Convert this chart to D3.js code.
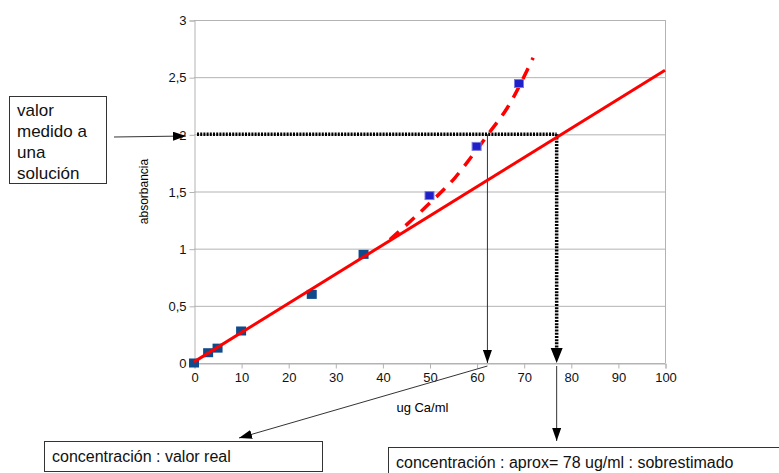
<!DOCTYPE html>
<html>
<head>
<meta charset="utf-8">
<script src="https://cdn.jsdelivr.net/npm/d3@7"></script>
<style>
  body { margin: 0; background: #fff; }
  svg { font-family: "Liberation Sans", Arial, sans-serif; }
</style>
</head>
<body>
<div id="chart"></div>
<script>
// calibration points (ug Ca/ml vs absorbancia)
const lowConc = [0, 3, 5, 10, 25, 36];
const lowAbs = [0, 0.09, 0.13, 0.28, 0.6, 0.95];
const highConc = [50, 60, 69];
const highAbs = [1.46, 1.89, 2.44];

// linear fit and curved (dashed) trend
const fitConc = [0, 100];
const fitAbs = [0.01, 2.56];
const dashConc = [41.6, 50.1, 55.4, 59.2, 62.8, 66.5, 72];
const dashAbs = [1.08, 1.40, 1.62, 1.82, 2.02, 2.23, 2.67];

// reading
const measuredAbs = 2;
const realConc = 62.3;
const estConc = 77;

const xTicks = [0, 10, 20, 30, 40, 50, 60, 70, 80, 90, 100];
const yTicks = [0, 0.5, 1, 1.5, 2, 2.5, 3];

const width = 779, height = 473;
const margins = { top: 20, right: 114, bottom: 110, left: 194 };

const svg = d3.select('#chart').append('svg')
  .attr('width', width)
  .attr('height', height);

const xScale = d3.scaleLinear()
  .domain([0, 100])
  .range([margins.left, width - margins.right]);
const yScale = d3.scaleLinear()
  .domain([0, 3])
  .range([height - margins.bottom, margins.top]);

const grey = '#b3b3b3';
const fmt = d => String(d).replace('.', ',');

// defs: arrowheads
const defs = svg.append('defs');
const marker = (id, w, h) => defs.append('marker')
  .attr('id', id)
  .attr('viewBox', `0 0 ${h} ${w}`)
  .attr('refX', h).attr('refY', w / 2)
  .attr('markerWidth', h).attr('markerHeight', w)
  .attr('markerUnits', 'userSpaceOnUse')
  .attr('orient', 'auto')
  .append('path')
    .attr('d', `M0,0 L${h},${w / 2} L0,${w} Z`)
    .attr('fill', '#000');
marker('thin', 9, 13);

// grid
svg.append('g').selectAll('line')
  .data(yTicks)
  .join('line')
    .attr('x1', xScale(0)).attr('x2', xScale(100))
    .attr('y1', d => yScale(d) + 0.5).attr('y2', d => yScale(d) + 0.5)
    .attr('stroke', grey);

// axes
const yAxis = svg.append('g')
  .attr('transform', `translate(${xScale(0) + 0.5},0.5)`)
  .call(d3.axisLeft(yScale).tickValues(yTicks).tickFormat(fmt).tickSize(5).tickPadding(3));
const xAxis = svg.append('g')
  .attr('transform', `translate(0.5,${yScale(0) + 0.5})`)
  .call(d3.axisBottom(xScale).tickValues(xTicks).tickSize(5).tickPadding(4));
[yAxis, xAxis].forEach(ax => {
  ax.select('.domain').attr('stroke', grey);
  ax.selectAll('.tick line').attr('stroke', grey);
  ax.selectAll('.tick text')
    .attr('fill', '#111')
    .style('font-size', '13px')
    .style('font-family', '"Liberation Sans", Arial, sans-serif');
});
// right border
svg.append('line')
  .attr('x1', xScale(100) + 0.5).attr('x2', xScale(100) + 0.5)
  .attr('y1', yScale(3)).attr('y2', yScale(0))
  .attr('stroke', grey);

// axis labels
svg.append('text')
  .attr('transform', `translate(148,${yScale(1.5)}) rotate(-90)`)
  .attr('text-anchor', 'middle')
  .style('font-size', '12px')
  .text('absorbancia');
svg.append('text')
  .attr('x', xScale(48.5)).attr('y', 412)
  .attr('text-anchor', 'middle')
  .style('font-size', '13px')
  .text('ug Ca/ml');

// reading lines
const dotted = svg.append('g')
  .attr('stroke', '#000')
  .attr('stroke-width', 3.5)
  .attr('stroke-dasharray', '2,1.2')
  .attr('fill', 'none');
dotted.append('line')
  .attr('x1', xScale(0) + 3).attr('x2', xScale(estConc))
  .attr('y1', yScale(measuredAbs)).attr('y2', yScale(measuredAbs));
dotted.append('line')
  .attr('x1', xScale(estConc)).attr('x2', xScale(estConc))
  .attr('y1', yScale(measuredAbs)).attr('y2', yScale(0) - 14);
svg.append('path')
  .attr('d', `M${xScale(estConc) - 6},${yScale(0) - 15} L${xScale(estConc) + 6},${yScale(0) - 15} L${xScale(estConc)},${yScale(0)} Z`)
  .attr('fill', '#000');

svg.append('line')
  .attr('x1', xScale(realConc)).attr('x2', xScale(realConc))
  .attr('y1', yScale(measuredAbs)).attr('y2', yScale(0))
  .attr('stroke', '#333').attr('stroke-width', 1)
  .attr('marker-end', 'url(#thin)');

// curved trend (dashed)
const line = d3.line()
  .x(d => xScale(d[0]))
  .y(d => yScale(d[1]));
svg.append('path')
  .attr('d', line.curve(d3.curveMonotoneX)(d3.zip(dashConc, dashAbs)))
  .attr('fill', 'none')
  .attr('stroke', '#ff0000')
  .attr('stroke-width', 3.5)
  .attr('stroke-dasharray', '12,9');

// points
const sq = 10;
svg.append('g').selectAll('rect')
  .data(d3.zip(lowConc, lowAbs))
  .join('rect')
    .attr('x', d => xScale(d[0]) - sq / 2)
    .attr('y', d => yScale(d[1]) - sq / 2 + 0.5)
    .attr('width', sq).attr('height', sq - 1)
    .attr('fill', '#0f4a8a');
svg.append('g').selectAll('rect')
  .data(d3.zip(highConc, highAbs))
  .join('rect')
    .attr('x', d => xScale(d[0]) - sq / 2 + 0.5)
    .attr('y', d => yScale(d[1]) - sq / 2 + 0.5)
    .attr('width', sq - 1).attr('height', sq - 2)
    .attr('fill', '#2020c8')
    .attr('stroke', '#7c7ce0')
    .attr('stroke-width', 1);

// linear fit
svg.append('path')
  .attr('d', line.curve(d3.curveLinear)(d3.zip(fitConc, fitAbs)))
  .attr('fill', 'none')
  .attr('stroke', '#ff0000')
  .attr('stroke-width', 3);

// annotation boxes
const box = (x, y, w, h, lines, size, lh, dy) => {
  svg.append('rect')
    .attr('x', x + 0.5).attr('y', y + 0.5)
    .attr('width', w).attr('height', h)
    .attr('fill', '#fff').attr('stroke', '#333');
  const t = svg.append('text')
    .attr('x', x + 8).attr('y', y + dy)
    .style('font-size', size + 'px')
    .attr('fill', '#111');
  lines.forEach((l, i) => t.append('tspan')
    .attr('x', x + 8).attr('dy', i ? lh : 0).text(l));
};
box(9, 96, 97, 87, ['valor', 'medido a', 'una', 'solución'], 17, 21, 20);
box(44, 441, 278, 30, ['concentración : valor real'], 16, 0, 21);
box(388, 447, 400, 30, ['concentración : aprox= 78 ug/ml : sobrestimado'], 16, 0, 21);

// annotation arrows
const arrow = (x1, y1, x2, y2) => svg.append('line')
  .attr('x1', x1).attr('y1', y1).attr('x2', x2).attr('y2', y2)
  .attr('stroke', '#333').attr('stroke-width', 1)
  .attr('marker-end', 'url(#thin)');
arrow(114, 137, 186, 136);
arrow(xScale(realConc), yScale(0) + 3, 239, 438);
arrow(xScale(estConc), yScale(0) + 3, xScale(estConc), 441);
</script>
</body>
</html>
